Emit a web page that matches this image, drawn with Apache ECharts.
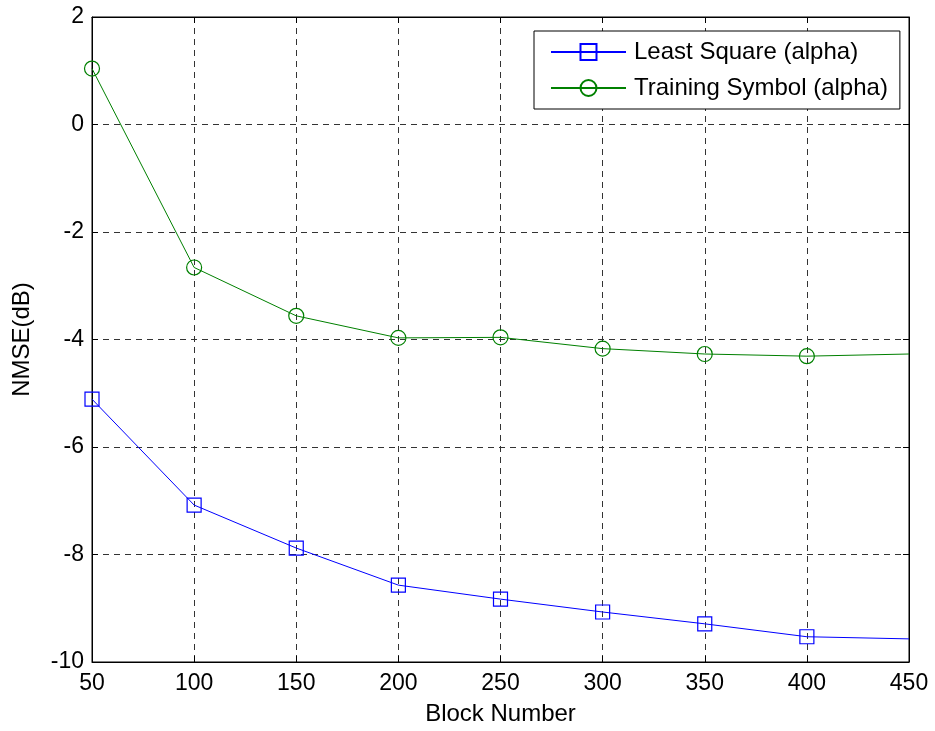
<!DOCTYPE html>
<html>
<head>
<meta charset="utf-8">
<script src="https://cdn.jsdelivr.net/npm/echarts@6/dist/echarts.min.js"></script>
<style>
  html, body { margin: 0; padding: 0; background: #fff; }
  #chart { width: 935px; height: 731px; }
</style>
</head>
<body>
<div id="chart"></div>
<script>
// Block numbers on the x axis
var blockNumbers = [50, 100, 150, 200, 250, 300, 350, 400, 450];
// NMSE (dB) per block count
var leastSquare = [-5.11, -7.08, -7.88, -8.57, -8.83, -9.07, -9.29, -9.53, -9.57];
var trainingSymbol = [1.04, -2.66, -3.56, -3.97, -3.96, -4.17, -4.27, -4.31, -4.27];
var seriesNames = ['Least Square (alpha)', 'Training Symbol (alpha)'];
var xTicks = { min: 50, max: 450, interval: 50 };
var yTicks = { min: -10, max: 2, interval: 2 };

var FONT = '"Liberation Sans", Arial, Helvetica, sans-serif';
var FS = 23;

// Pair x/y values; the final point carries the line only, no marker
function pairs(values) {
  return values.map(function (v, i) {
    var item = { value: [blockNumbers[i], v] };
    if (i === values.length - 1) item.symbol = 'none';
    return item;
  });
}

var chart = echarts.init(document.getElementById('chart'), null, { renderer: 'canvas' });

var gridLine = { show: true, lineStyle: { color: '#333', width: 1, type: [6, 5] } };
var tick = { show: true, inside: true, length: 6, lineStyle: { color: '#000' } };

chart.setOption({
  backgroundColor: '#fff',
  animation: false,
  textStyle: { fontFamily: FONT },
  grid: {
    left: 92, right: 26, top: 17, bottom: 69,
    show: true, borderColor: '#000', borderWidth: 1, backgroundColor: 'transparent'
  },
  legend: {
    orient: 'vertical',
    left: 534, top: 31,
    backgroundColor: '#fff',
    borderColor: '#000',
    borderWidth: 1,
    padding: [9, 12, 9, 16],
    itemWidth: 75,
    itemHeight: 20,
    itemGap: 12,
    textStyle: { fontSize: 24, color: '#000', fontFamily: FONT, padding: [0, 0, 0, 3] },
    data: seriesNames
  },
  xAxis: [{
    type: 'value',
    min: xTicks.min, max: xTicks.max, interval: xTicks.interval,
    name: 'Block Number',
    nameLocation: 'middle',
    nameGap: 40,
    nameTextStyle: { fontSize: 24, color: '#000', fontFamily: FONT },
    axisLine: { show: true, onZero: false, lineStyle: { color: '#000', width: 1 } },
    axisTick: tick,
    axisLabel: { fontSize: FS, color: '#000', margin: 10, fontFamily: FONT },
    splitLine: gridLine
  }, {
    type: 'value', position: 'top',
    min: xTicks.min, max: xTicks.max, interval: xTicks.interval,
    axisLine: { show: true, onZero: false, lineStyle: { color: '#000' } },
    axisTick: tick,
    axisLabel: { show: false },
    splitLine: { show: false }
  }],
  yAxis: [{
    type: 'value',
    min: yTicks.min, max: yTicks.max, interval: yTicks.interval,
    name: 'NMSE(dB)',
    nameLocation: 'middle',
    nameGap: 58,
    nameRotate: 90,
    nameTextStyle: { fontSize: 24, color: '#000', fontFamily: FONT },
    axisLine: { show: true, onZero: false, lineStyle: { color: '#000', width: 1 } },
    axisTick: tick,
    axisLabel: { fontSize: FS, color: '#000', margin: 8, fontFamily: FONT },
    splitLine: gridLine
  }, {
    type: 'value', position: 'right',
    min: yTicks.min, max: yTicks.max, interval: yTicks.interval,
    axisLine: { show: true, onZero: false, lineStyle: { color: '#000' } },
    axisTick: tick,
    axisLabel: { show: false },
    splitLine: { show: false }
  }],
  series: [{
    name: seriesNames[0],
    type: 'line',
    data: pairs(leastSquare),
    symbol: 'rect',
    symbolSize: 14,
    showAllSymbol: true,
    color: '#0000ff',
    lineStyle: { color: '#0000ff', width: 1 },
    itemStyle: { color: 'transparent', borderColor: '#0000ff', borderWidth: 1.2 }
  }, {
    name: seriesNames[1],
    type: 'line',
    data: pairs(trainingSymbol),
    symbol: 'circle',
    symbolSize: 15,
    showAllSymbol: true,
    color: '#008000',
    lineStyle: { color: '#008000', width: 1 },
    itemStyle: { color: 'transparent', borderColor: '#008000', borderWidth: 1.2 }
  }]
});
</script>
</body>
</html>
